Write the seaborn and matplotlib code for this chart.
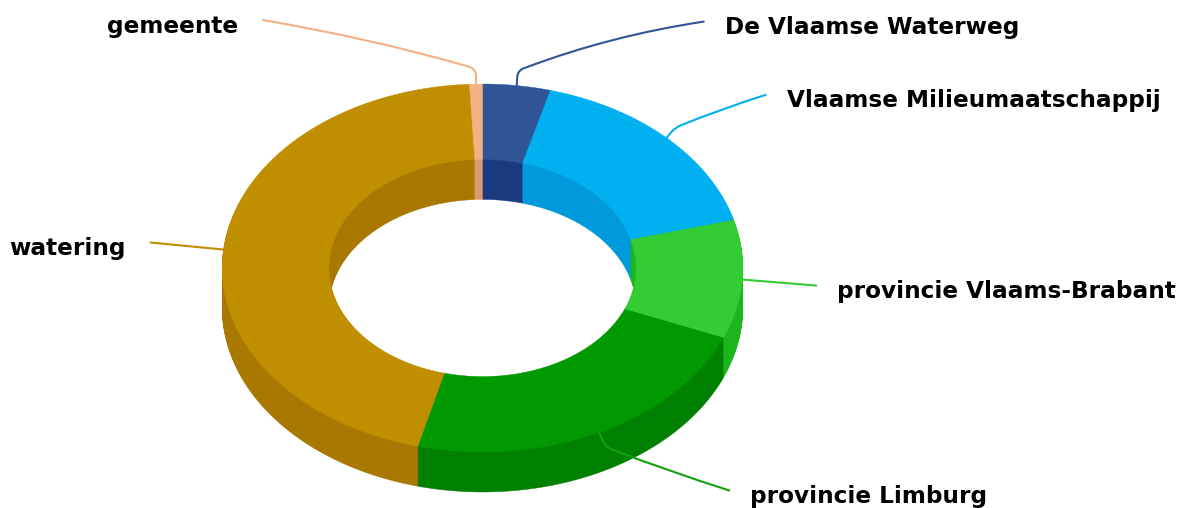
import numpy as np
import matplotlib
matplotlib.use("Agg")
import matplotlib.pyplot as plt
from matplotlib.path import Path
from matplotlib.patches import PathPatch
from matplotlib.transforms import IdentityTransform
import seaborn as sns

# data, clockwise from the top
categories = ["De Vlaamse Waterweg", "Vlaamse Milieumaatschappij", "provincie Vlaams-Brabant",
              "provincie Limburg", "watering", "gemeente"]
values = [4.2, 16.6, 10.4, 22.8, 45.2, 0.8]

# style
top_colors = ["#2F5597", "#00B0F0", "#33CC33", "#009900", "#BF8F00", "#F4B183"]
wall_colors = ["#1A3A80", "#0099DA", "#1CB51C", "#008000", "#A87800", "#DD9A6C"]
line_colors = ["#2F5597", "#00B0F0", "#33CC33", "#10A010", "#BF8F00", "#F4B183"]

# layout (pixels)
W, H = 1189, 508
CX, CY, RX, RY = 482.5, 268, 260.3, 184
HOLE = 0.41
DEPTH = 40
# elbow offset from wedge point, end offset from wedge point, bow of the run, text side
elbows = [(1, -16), (10, -11), None, (7, 15), None, (0, -16)]
ends = [(187, -64), (99, -43), (74, 6), (130, 58), (-73, -7), (-213, -64)]
bows = [10, 2, 0, -2, 0, 6]
sides = ["left", "left", "left", "left", "right", "right"]

sns.set_theme(style="white")
plt.rcParams["font.family"] = "DejaVu Sans"
fig = plt.figure(figsize=(W / 100, H / 100), dpi=100, facecolor="white")
ax = fig.add_axes([0, 0, 1, 1])


def ring(colors, offset=0.0):
    wedges, _ = ax.pie(values, colors=sns.color_palette(colors), startangle=90, counterclock=False,
                       radius=1, center=(0, offset), normalize=True, frame=False,
                       wedgeprops=dict(width=HOLE, linewidth=0.3))
    for w in wedges:
        w.set_edgecolor(w.get_facecolor())
        # finer outline than the default Bezier arcs, which flatten into visible facets
        t = np.radians(np.linspace(w.theta1, w.theta2, max(4, int((w.theta2 - w.theta1) * 2))))
        outer = np.column_stack((np.cos(t), np.sin(t)))
        inner = outer[::-1] * (w.r - w.width)
        pts = np.vstack((outer * w.r, inner, outer[:1] * w.r)) + np.array(w.center)
        w._path = Path(pts, closed=True)
    return wedges


for k in range(DEPTH, 0, -1):
    ring(wall_colors, -k / RY)
wedges = ring(top_colors)

ax.set_aspect("auto")
ax.set_xlim(-CX / RX, (W - CX) / RX)
ax.set_ylim((CY - H) / RY, CY / RY)
ax.set_axis_off()
fig.canvas.draw()

fracs = np.cumsum([0] + values) / sum(values) * 360
mids = (fracs[:-1] + fracs[1:]) / 2
for i, name in enumerate(categories):
    a = np.radians(mids[i])
    sx, sy = ax.transData.transform((np.sin(a), np.cos(a)))
    ex, ey = ends[i]
    end = (sx + ex, sy - ey)
    if elbows[i] is None:
        verts = [(sx, sy), end]
        codes = [Path.MOVETO, Path.LINETO]
    else:
        bx, by = elbows[i]
        el = np.array((sx + bx, sy - by))
        v = np.array(end) - el
        turn = el + v * 0.045
        # short rise, rounded corner, then a gently bowed run out to the label
        bow = el + v * 0.5 + np.array((0, bows[i]))
        verts = [(sx, sy), (sx + bx * 0.5, sy - by * 0.55), tuple(el), tuple(turn), tuple(bow), end]
        codes = [Path.MOVETO, Path.LINETO, Path.CURVE3, Path.CURVE3, Path.CURVE3, Path.CURVE3]
    ax.add_patch(PathPatch(Path(verts, codes), transform=IdentityTransform(), fill=False,
                           edgecolor=line_colors[i], linewidth=1.5, capstyle="round",
                           joinstyle="round", zorder=5, clip_on=False))
    pad = 21 if sides[i] == "left" else -25
    ax.text(end[0] + pad, end[1] - 6, name, transform=IdentityTransform(), ha=sides[i],
            va="center", fontsize=16.65, fontweight="bold", color="black", zorder=6)

fig.savefig("out.png", dpi=100, facecolor="white")
